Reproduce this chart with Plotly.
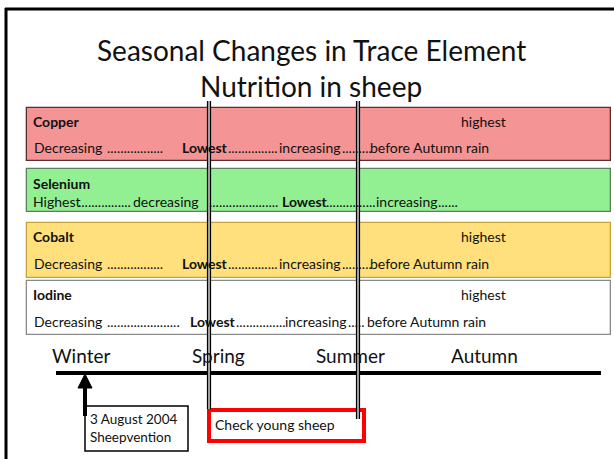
import plotly.graph_objects as go

# ---------------- data ----------------
title_lines = ["Seasonal Changes in Trace Element", "Nutrition in sheep"]
elements = ["Copper", "Selenium", "Cobalt", "Iodine"]
highest_labels = ["highest", "", "highest", "highest"]
# each trend line is a list of text pieces (words and dotted runs)
trend_pieces = [
    ["Decreasing", ".................", "<b>Lowest</b>", "...............", "increasing", ".........", "before Autumn rain"],
    ["Highest", "................", "decreasing", ".....................", "<b>Lowest</b>", "...............", "increasing", "......"],
    ["Decreasing", ".................", "<b>Lowest</b>", "...............", "increasing", ".........", "before Autumn rain"],
    ["Decreasing", "......................", "<b>Lowest</b>", "...............", "increasing", ".....", "before Autumn rain"],
]
box_colors = ["#F49494", "#92F092", "#FFE07C", "#FFFFFF"]
border_colors = ["#5A2E2E", "#5E805E", "#C8A23A", "#8A8A8A"]
seasons = ["Winter", "Spring", "Summer", "Autumn"]
event_text = "3 August 2004<br>Sheepvention"
check_text = "Check young sheep"

# ---------------- layout constants (pixel canvas) ----------------
W, H = 614, 459
FONT = "Lato, 'Open Sans', sans-serif"
box_top = [108, 169, 223, 281]
box_bot = [161, 212, 278, 335]
label_y = [121, 183, 236, 294]
line_y = [147, 201, 263, 321]
piece_x = [
    [32, 105, 180, 226, 277, 340, 368],
    [31, 76, 131, 207, 280, 324, 374, 436],
    [32, 105, 180, 226, 277, 340, 368],
    [32, 105, 188, 234, 283, 346, 365],
]
BOX_X0, BOX_X1 = 27, 611
season_cx = [81, 218, 350, 484]
TXT = "#111"

fig = go.Figure()

# element boxes as horizontal bars
fig.add_trace(go.Bar(
    orientation="h",
    y=[(t + b) / 2 for t, b in zip(box_top, box_bot)],
    x=[BOX_X1 - BOX_X0] * len(elements),
    base=[BOX_X0] * len(elements),
    width=[b - t for t, b in zip(box_top, box_bot)],
    marker=dict(color=box_colors, line=dict(color=border_colors, width=1.3)),
    hoverinfo="skip",
    showlegend=False,
))

annotations = []
for i, t in enumerate(title_lines):
    annotations.append(dict(x=W / 2 + 4, y=[50, 86][i], text=t, showarrow=False,
                            xanchor="center", yanchor="middle",
                            font=dict(family=FONT, size=28, color=TXT)))

for i, el in enumerate(elements):
    annotations.append(dict(x=BOX_X0 + 4, y=label_y[i], text=f"<b>{el}</b>", showarrow=False,
                            xanchor="left", yanchor="middle",
                            font=dict(family=FONT, size=14, color=TXT)))
    if highest_labels[i]:
        annotations.append(dict(x=459, y=label_y[i], text=highest_labels[i], showarrow=False,
                                xanchor="left", yanchor="middle",
                                font=dict(family=FONT, size=14, color=TXT)))
    for txt, px in zip(trend_pieces[i], piece_x[i]):
        annotations.append(dict(x=px, y=line_y[i], text=txt, showarrow=False,
                                xanchor="left", yanchor="middle",
                                font=dict(family=FONT, size=14, color=TXT)))

for s, cx in zip(seasons, season_cx):
    annotations.append(dict(x=cx, y=355, text=s, showarrow=False,
                            xanchor="center", yanchor="middle",
                            font=dict(family=FONT, size=19, color=TXT)))

annotations.append(dict(x=88, y=428, text=event_text, showarrow=False, align="left",
                        xanchor="left", yanchor="middle",
                        font=dict(family=FONT, size=13.5, color=TXT)))
annotations.append(dict(x=213, y=424, text=check_text, showarrow=False,
                        xanchor="left", yanchor="middle",
                        font=dict(family=FONT, size=14, color=TXT)))

shapes = []
# slide border
shapes.append(dict(type="line", x0=6, x1=6, y0=8, y1=H, line=dict(color="#000", width=3)))
shapes.append(dict(type="line", x0=5, x1=W, y0=9, y1=9, line=dict(color="#000", width=3)))
# timeline
shapes.append(dict(type="line", x0=56, x1=601, y0=373, y1=373, line=dict(color="#000", width=4)))
# arrow
shapes.append(dict(type="line", x0=85, x1=85, y0=416, y1=386, line=dict(color="#000", width=4)))
shapes.append(dict(type="path", path="M 78 388 L 85 374 L 92 388 Z", fillcolor="#000",
                   line=dict(color="#000", width=1)))
# event box
shapes.append(dict(type="rect", x0=85, x1=188, y0=406, y1=451, fillcolor="#fff",
                   line=dict(color="#000", width=1.5), layer="below"))
# check box
shapes.append(dict(type="rect", x0=209, x1=364, y0=410, y1=441, fillcolor="rgba(0,0,0,0)",
                   line=dict(color="#FF0000", width=4), layer="above"))
# double vertical lines
for x0, y1 in [(207, 409), (356, 419)]:
    shapes.append(dict(type="line", x0=x0 + 2, x1=x0 + 2, y0=101, y1=y1,
                       line=dict(color="#b0b0b0", width=2), layer="above"))
    for dx in (0.5, 3.5):
        shapes.append(dict(type="line", x0=x0 + dx, x1=x0 + dx, y0=101, y1=y1,
                           line=dict(color="#000", width=1.2), layer="above"))

fig.update_layout(
    width=W, height=H,
    margin=dict(l=0, r=0, t=0, b=0),
    paper_bgcolor="#fff", plot_bgcolor="#fff",
    xaxis=dict(range=[0, W], visible=False, fixedrange=True),
    yaxis=dict(range=[H, 0], visible=False, fixedrange=True),
    annotations=annotations,
    shapes=shapes,
    bargap=0,
)

fig.write_html("out.html", config={"displayModeBar": False},
               post_script="document.body.style.margin='0';document.body.style.overflow='hidden';")
